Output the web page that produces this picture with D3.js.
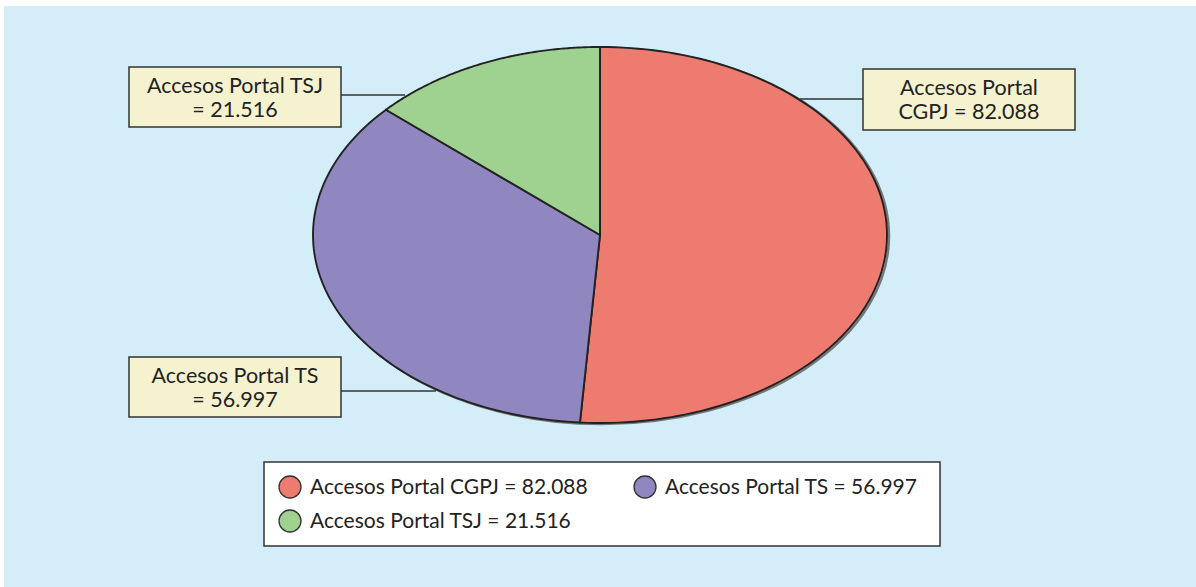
<!DOCTYPE html>
<html><head><meta charset="utf-8">
<script src="https://cdn.jsdelivr.net/npm/d3@7/dist/d3.min.js"></script>
<style>body{margin:0;background:#fff;}svg{display:block;}</style>
</head><body>
<svg id="c" width="1196" height="587"></svg>
<script>
const categories = ["Accesos Portal CGPJ", "Accesos Portal TS", "Accesos Portal TSJ"];
const values = [82.088, 56.997, 21.516];
const valueLabels = ["82.088", "56.997", "21.516"];
const colors = ["#ee7b70", "#9086c0", "#9fd190"];

const svg = d3.select("#c");
const font = "'Gill Sans','Lato','Open Sans',sans-serif";
svg.append("rect").attr("x", 4).attr("y", 6).attr("width", 1192).attr("height", 581).attr("fill", "#d3edf9");

const cx = 600, cy = 235, rx = 287, ry = 188;
const pie = d3.pie().sort(null).value(d => d)(values);

// shadow
svg.append("ellipse").attr("cx", cx + 2).attr("cy", cy + 1).attr("rx", rx).attr("ry", ry)
  .attr("fill", "none").attr("stroke", "#777").attr("stroke-width", 2.5);

const g = svg.append("g").attr("transform", `translate(${cx},${cy})`);
g.selectAll("path").data(pie).join("path")
  .attr("d", d => {
    const n = 120, pts = [[0, 0]];
    for (let i = 0; i <= n; i++) {
      const a = d.startAngle + (d.endAngle - d.startAngle) * i / n;
      pts.push([rx * Math.sin(a), -ry * Math.cos(a)]);
    }
    return d3.line()(pts) + "Z";
  })
  .attr("fill", (d, i) => colors[i])
  .attr("stroke", "#222").attr("stroke-width", 1.9).attr("stroke-linejoin", "round");

// callout labels
const boxes = [
  {i: 0, x: 863, y: 69, w: 212, h: 61, lines: ["Accesos Portal", "CGPJ = " + valueLabels[0]], ly: 99, lx1: 800, lx2: 863},
  {i: 1, x: 129, y: 357, w: 212, h: 60, lines: ["Accesos Portal TS", "= " + valueLabels[1]], ly: 391, lx1: 341, lx2: 436},
  {i: 2, x: 129, y: 67, w: 212, h: 60, lines: ["Accesos Portal TSJ", "= " + valueLabels[2]], ly: 95, lx1: 341, lx2: 405}
];
boxes.forEach(b => {
  svg.append("line").attr("x1", b.lx1).attr("x2", b.lx2).attr("y1", b.ly).attr("y2", b.ly)
    .attr("stroke", "#333").attr("stroke-width", 1.3);
  svg.append("rect").attr("x", b.x).attr("y", b.y).attr("width", b.w).attr("height", b.h)
    .attr("fill", "#f5f3cf").attr("stroke", "#333").attr("stroke-width", 1.5);
  b.lines.forEach((t, k) => {
    svg.append("text").attr("x", b.x + b.w / 2).attr("y", b.y + 26 + k * 24)
      .attr("text-anchor", "middle").attr("font-family", font).attr("font-size", 21.5)
      .attr("fill", "#222").text(t);
  });
});

// legend
const lg = svg.append("g");
lg.append("rect").attr("x", 264).attr("y", 462).attr("width", 676).attr("height", 84)
  .attr("fill", "#fff").attr("stroke", "#333").attr("stroke-width", 1.5);
const legPos = [[290, 487], [645, 487], [290, 521]];
categories.forEach((c, i) => {
  lg.append("ellipse").attr("cx", legPos[i][0]).attr("cy", legPos[i][1]).attr("rx", 11).attr("ry", 11)
    .attr("fill", colors[i]).attr("stroke", "#333").attr("stroke-width", 1.3);
  lg.append("text").attr("x", legPos[i][0] + 20).attr("y", legPos[i][1] + 7)
    .attr("font-family", font).attr("font-size", 21).attr("fill", "#222")
    .text(c + " = " + valueLabels[i]);
});
</script>
</body></html>
